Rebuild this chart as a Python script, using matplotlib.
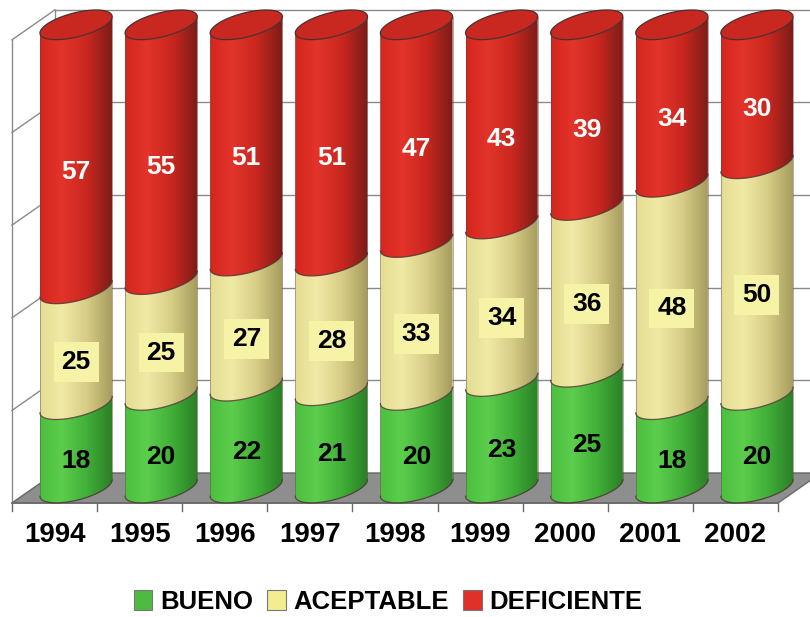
import numpy as np
import matplotlib.pyplot as plt
from matplotlib.patches import Polygon, Patch
from matplotlib.colors import LinearSegmentedColormap

plt.rcParams['font.family'] = ['Liberation Sans', 'DejaVu Sans']

years = ['1994', '1995', '1996', '1997', '1998', '1999', '2000', '2001', '2002']
bueno = [18, 20, 22, 21, 20, 23, 25, 18, 20]
aceptable = [25, 25, 27, 28, 33, 34, 36, 48, 50]
deficiente = [57, 55, 51, 51, 47, 43, 39, 34, 30]

series = [
    ('BUENO', bueno, ['#4CBF3E', '#5CCD4C', '#40AE38', '#2A7E26'], '#4DBB3F', 'black'),
    ('ACEPTABLE', aceptable, ['#E4DC92', '#F0EAA6', '#D6CC86', '#A49A5C'], '#F2EE90', 'black'),
    ('DEFICIENTE', deficiente, ['#D4261E', '#E2342A', '#C8271F', '#7A1C18'], '#E0302A', 'white'),
]

fig = plt.figure(figsize=(8.1, 6.17), dpi=100)
ax = fig.add_axes([0, 0, 1, 1])

# depth of the box (oblique projection) and cylinder geometry, in data units
DX, DY = 0.505, 6.48
R = 0.353          # radius across
AX, BY = 0.235, 3.2   # depth radius projected
W = np.hypot(R, AX)
t0 = np.arctan2(AX, R)
n = len(years)
grid = '#8A8A8A'

# walls and floor
ax.add_patch(Polygon([(0, 0), (n, 0), (n + DX, DY), (DX, DY)],
                     fc='#8E8E8E', ec='#6A6A6A', lw=1, zorder=1))
for v in range(0, 101, 20):
    ax.plot([DX, n + DX], [v + DY, v + DY], color=grid, lw=1, zorder=0.5)
    ax.plot([0, DX], [v, v + DY], color=grid, lw=1, zorder=0.5)
ax.plot([0, 0], [0, 100], color=grid, lw=1, zorder=0.5)
ax.plot([DX, DX], [DY, 100 + DY], color=grid, lw=1, zorder=0.5)
ax.plot([0, n], [0, 0], color='#6A6A6A', lw=1.2, zorder=1.2)
for i in range(n + 1):
    ax.plot([i, i], [0, -1.7], color='#6A6A6A', lw=1, zorder=1.2)


def ellipse(cx, cy, t):
    return cx + R * np.cos(t) + AX * np.sin(t), cy + BY * np.sin(t)


front = np.linspace(t0 + np.pi, t0 + 2 * np.pi, 80)
full = np.linspace(0, 2 * np.pi, 160)
grad = np.linspace(0, 1, 256).reshape(1, -1)

for i in range(n):
    cx = i + 0.5 + DX / 2
    base = 0
    for name, vals, stops, _, tcol in series:
        v = vals[i]
        lo, hi = base, base + v
        xl, yl = ellipse(cx, lo + DY / 2, front)
        xh, yh = ellipse(cx, hi + DY / 2, front)
        poly = Polygon(np.column_stack([np.r_[xl, xh[::-1]], np.r_[yl, yh[::-1]]]),
                       fc='none', ec='none', zorder=2)
        ax.add_patch(poly)
        cmap = LinearSegmentedColormap.from_list(name, list(zip([0, 0.3, 0.65, 1], stops)))
        im = ax.imshow(grad, cmap=cmap, aspect='auto', zorder=2,
                       extent=[cx - W, cx + W, lo + DY / 2 - BY - 1, hi + DY / 2 + BY + 1])
        im.set_clip_path(poly)
        ax.plot(xl, yl, color='#4A3030', lw=0.9, alpha=0.8, zorder=3)
        ax.plot([cx - W, cx - W], [yl[0], yh[0]], color='#5A4040', lw=0.6, alpha=0.5, zorder=3)
        ax.plot([cx + W, cx + W], [yl[-1], yh[-1]], color='#5A4040', lw=0.6, alpha=0.5, zorder=3)
        if name == 'ACEPTABLE':
            ax.text(cx, (lo + hi) / 2, str(v), ha='center', va='center', fontsize=19,
                    fontweight='bold', color=tcol, zorder=5,
                    bbox=dict(boxstyle='square,pad=0.3', fc='#F7F3A6', ec='none'))
        else:
            ax.text(cx, (lo + hi) / 2, str(v), ha='center', va='center', fontsize=19,
                    fontweight='bold', color=tcol, zorder=5)
        base = hi
    # top face of the cylinder
    xt, yt = ellipse(cx, base + DY / 2, full)
    ax.add_patch(Polygon(np.column_stack([xt, yt]), fc='#C8281F', ec='#4A3030',
                         lw=0.9, zorder=4))

for i, y in enumerate(years):
    ax.text(i + 0.5, -6.9, y, ha='center', va='center', fontsize=20, fontweight='bold')

handles = [Patch(fc=s[3], ec='#777777', lw=0.8) for s in series]
ax.legend(handles, [s[0] for s in series], loc='center', bbox_to_anchor=(4.42, -21.4),
          bbox_transform=ax.transData, ncol=3, frameon=False,
          prop={'size': 18.5, 'weight': 'bold'}, handlelength=0.72, handleheight=0.8,
          columnspacing=0.55, handletextpad=0.3)

ax.set_xlim(-0.141, 9.376)
ax.set_ylim(-24.6, 108.6)
ax.axis('off')
fig.savefig('out.png', dpi=100)
